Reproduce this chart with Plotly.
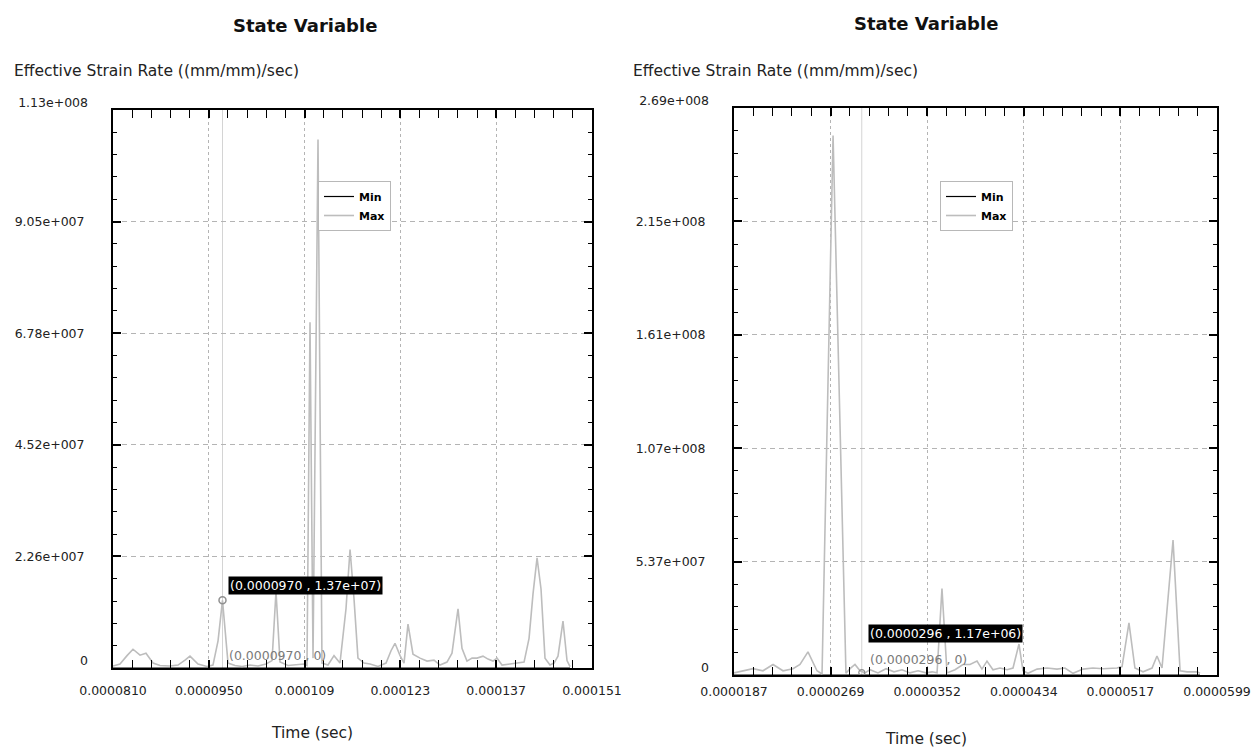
import plotly.graph_objects as go

# ---------------- data (time in microseconds, strain rate in 1e6 (mm/mm)/sec) ----------------
left_time_us = [81.0, 82.02, 83.05, 83.92, 84.95, 85.82, 86.85, 87.87, 89.33, 90.50,
                91.52, 92.25, 93.42, 94.74, 95.61, 96.35, 97.0, 97.81, 98.83, 99.85,
                101.02, 102.19, 103.36, 104.24, 104.82, 105.41, 106.58, 107.74, 108.91, 109.35,
                109.79, 110.23, 110.96, 111.54, 112.42, 113.30, 114.17, 115.05, 115.64, 116.22,
                116.80, 117.68, 118.56, 119.73, 120.90, 121.63, 122.21, 122.95, 123.53, 124.11,
                124.84, 125.87, 126.89, 127.91, 128.79, 129.81, 130.54, 131.42, 132.00, 132.73,
                133.47, 134.20, 135.07, 135.80, 136.53, 137.12, 137.85, 139.02, 140.19, 141.07,
                141.80, 142.38, 142.97, 143.55, 144.13, 144.86, 145.45, 146.03, 146.76, 147.35,
                147.79]
left_max_e6 = [0.4, 0.8, 2.5, 3.8, 2.6, 3.0, 1.0, 0.5, 0.4, 0.6,
               1.6, 2.4, 0.8, 0.3, 0.6, 5.5, 13.7, 1.0, 0.5, 0.3,
               0.6, 0.4, 0.8, 1.5, 15.5, 1.2, 0.5, 0.6, 0.8, 0.5,
               70.0, 2.0, 107.0, 1.0, 0.6, 2.5, 1.0, 12.0, 24.0, 14.0,
               2.0, 1.0, 0.8, 0.3, 1.0, 3.5, 5.0, 2.5, 1.0, 8.9,
               2.8, 2.0, 1.4, 1.6, 0.6, 1.2, 3.0, 12.0, 4.0, 1.4,
               2.0, 2.0, 2.4, 1.8, 1.4, 2.0, 0.6, 0.8, 1.0, 1.2,
               6.0, 15.0, 22.3, 16.0, 2.0, 0.6, 1.0, 2.4, 9.5, 1.5,
               0.3]
left_min_e6 = [0.0] * len(left_time_us)

right_time_us = [18.70, 19.47, 20.32, 21.17, 22.03, 22.88, 23.73, 24.33, 25.01, 25.78,
                 26.21, 27.15, 28.25, 28.60, 29.02, 29.45, 29.87, 30.30, 30.98, 31.67,
                 32.35, 33.03, 33.71, 34.40, 35.08, 35.59, 36.02, 36.44, 36.87, 37.55,
                 38.23, 38.83, 39.43, 39.85, 40.28, 40.79, 41.39, 41.99, 42.50, 43.01,
                 43.35, 43.78, 44.55, 45.40, 46.25, 46.93, 47.62, 48.47, 49.32, 50.18,
                 50.77, 51.37, 51.80, 52.39, 52.90, 53.59, 54.36, 54.78, 55.21, 56.15,
                 56.75, 57.35, 58.20, 58.45]
right_max_e6 = [1.0, 2.0, 3.0, 2.0, 5.0, 2.0, 3.0, 5.0, 11.0, 2.0,
                0.5, 256.0, 0.8, 3.0, 5.0, 2.0, 1.0, 2.5, 1.0, 3.0,
                1.5, 2.5, 1.0, 2.0, 1.0, 1.5, 1.0, 41.0, 1.0, 2.5,
                5.0, 5.0, 6.6, 2.8, 6.6, 2.5, 3.3, 2.5, 3.3, 14.7,
                2.0, 0.8, 2.8, 3.3, 2.8, 3.3, 0.8, 2.8, 3.3, 3.0,
                3.3, 3.3, 4.0, 24.7, 3.3, 1.5, 3.3, 9.0, 3.3, 64.0,
                2.0, 1.5, 1.5, 0.8]
right_min_e6 = [0.0] * len(right_time_us)

# axis ticks
left_xticks = [81e-6, 95e-6, 109e-6, 123e-6, 137e-6, 151e-6]
left_xlabels = ["0.0000810", "0.0000950", "0.000109", "0.000123", "0.000137", "0.000151"]
left_yticks = [0, 22.6e6, 45.2e6, 67.8e6, 90.4e6, 113e6]
left_ylabels = ["0", "2.26e+007", "4.52e+007", "6.78e+007", "9.05e+007", "1.13e+008"]

right_xticks = [18.70e-6, 26.94e-6, 35.18e-6, 43.42e-6, 51.66e-6, 59.90e-6]
right_xlabels = ["0.0000187", "0.0000269", "0.0000352", "0.0000434", "0.0000517", "0.0000599"]
right_yticks = [0, 53.8e6, 107.6e6, 161.4e6, 215.2e6, 269e6]
right_ylabels = ["0", "5.37e+007", "1.07e+008", "1.61e+008", "2.15e+008", "2.69e+008"]

# cursor readouts
left_cursor = (97.0e-6, 13.7e6)
right_cursor = (29.6e-6, 1.17e6)

W, H = 1253, 749
FONT = "DejaVu Sans"
MAXC = "#bdbdbd"

def px(v):
    return v / W

def py(v):
    return 1 - v / H

fig = go.Figure()

# left traces
fig.add_trace(go.Scatter(x=[t * 1e-6 for t in left_time_us], y=[v * 1e6 for v in left_min_e6],
                         mode="lines", name="Min", line=dict(color="black", width=1.2),
                         xaxis="x", yaxis="y", legend="legend"))
fig.add_trace(go.Scatter(x=[t * 1e-6 for t in left_time_us], y=[v * 1e6 for v in left_max_e6],
                         mode="lines", name="Max", line=dict(color=MAXC, width=1.6),
                         xaxis="x", yaxis="y", legend="legend"))
fig.add_trace(go.Scatter(x=[left_cursor[0]], y=[left_cursor[1]], mode="markers",
                         marker=dict(symbol="circle-open", size=7, color="#909090", line=dict(width=1.5)),
                         showlegend=False, xaxis="x", yaxis="y"))
# right traces
fig.add_trace(go.Scatter(x=[t * 1e-6 for t in right_time_us], y=[v * 1e6 for v in right_min_e6],
                         mode="lines", name="Min", line=dict(color="black", width=1.2),
                         xaxis="x2", yaxis="y2", legend="legend2"))
fig.add_trace(go.Scatter(x=[t * 1e-6 for t in right_time_us], y=[v * 1e6 for v in right_max_e6],
                         mode="lines", name="Max", line=dict(color=MAXC, width=1.6),
                         xaxis="x2", yaxis="y2", legend="legend2"))
fig.add_trace(go.Scatter(x=[right_cursor[0]], y=[right_cursor[1]], mode="markers",
                         marker=dict(symbol="circle-open", size=6, color="#909090", line=dict(width=1.2)),
                         showlegend=False, xaxis="x2", yaxis="y2"))
# empty traces so the end-label overlay axes are drawn
fig.add_trace(go.Scatter(x=[], y=[], xaxis="x", yaxis="y3", showlegend=False, hoverinfo="skip"))
fig.add_trace(go.Scatter(x=[], y=[], xaxis="x2", yaxis="y4", showlegend=False, hoverinfo="skip"))

tickfont = dict(family=FONT, size=12.5, color="#222222")

def xaxis_cfg(domain, rng, tv, tt, minor_dt, anchor, standoff):
    return dict(domain=domain, range=rng, anchor=anchor, automargin=False,
                tickmode="array", tickvals=tv, ticktext=tt, tickfont=tickfont,
                ticks="inside", ticklen=8, tickwidth=2, tickcolor="black",
                minor=dict(ticks="inside", ticklen=4, tickwidth=1, tickcolor="black",
                           tick0=rng[0], dtick=minor_dt, showgrid=False),
                showline=True, linecolor="black", linewidth=2, mirror="allticks",
                showgrid=True, gridcolor="#b4b4b4", griddash="3px,3px", gridwidth=1,
                zeroline=False, ticklabelstandoff=standoff)

def yaxis_cfg(domain, rng, tv, tt, minor_dt, anchor, standoff):
    # end labels (first and last) are drawn by an overlay axis, slightly raised
    mid_text = [""] + list(tt[1:-1]) + [""]
    return dict(domain=domain, range=rng, anchor=anchor, automargin=False,
                tickmode="array", tickvals=tv, ticktext=mid_text, tickfont=tickfont,
                ticks="inside", ticklen=8, tickwidth=2, tickcolor="black",
                minor=dict(ticks="inside", ticklen=4, tickwidth=1, tickcolor="black",
                           tick0=0, dtick=minor_dt, showgrid=False),
                showline=True, linecolor="black", linewidth=2, mirror="allticks",
                showgrid=True, gridcolor="#b4b4b4", griddash="5px,4px", gridwidth=1,
                zeroline=False, ticklabelstandoff=standoff)

def yend_cfg(over, rng, tv, tt, anchor, standoff, shift):
    return dict(overlaying=over, anchor=anchor, side="left", range=rng, automargin=False,
                tickmode="array", tickvals=[tv[0], tv[-1]], ticktext=[tt[0], tt[-1]], tickfont=tickfont,
                ticks="", showline=False, showgrid=False, zeroline=False,
                ticklabelstandoff=standoff, ticklabelshift=shift)

fig.update_layout(
    width=W, height=H, margin=dict(l=0, r=0, t=0, b=0, autoexpand=False),
    paper_bgcolor="white", plot_bgcolor="white",
    xaxis=xaxis_cfg([px(113), px(592)], [81e-6, 151e-6], left_xticks, left_xlabels, 2.8e-6, "y", 10),
    yaxis=yaxis_cfg([py(668), py(110)], [0, 113e6], left_yticks, left_ylabels, 4.52e6, "x", 24),
    yaxis3=yend_cfg("y", [0, 113e6], left_yticks, left_ylabels, "x", 24, -7),
    xaxis2=xaxis_cfg([px(734), px(1217)], [18.7e-6, 59.9e-6], right_xticks, right_xlabels, 1.648e-6, "y2", 4),
    yaxis2=yaxis_cfg([py(675), py(108)], [0, 269e6], right_yticks, right_ylabels, 10.76e6, "x2", 24),
    yaxis4=yend_cfg("y2", [0, 269e6], right_yticks, right_ylabels, "x2", 24, -7),
    legend=dict(x=px(318), y=py(181), xanchor="left", yanchor="top",
                bgcolor="white", bordercolor="#b8b8b8", borderwidth=1,
                font=dict(family=FONT, size=11, color="black", weight="bold"),
                itemwidth=30, tracegroupgap=0),
    legend2=dict(x=px(940), y=py(181), xanchor="left", yanchor="top",
                 bgcolor="white", bordercolor="#b8b8b8", borderwidth=1,
                 font=dict(family=FONT, size=11, color="black", weight="bold"),
                 itemwidth=30, tracegroupgap=0),
    showlegend=True,
)

# cursor lines
fig.add_shape(type="line", xref="x", yref="y domain", x0=left_cursor[0], x1=left_cursor[0], y0=0, y1=1,
              line=dict(color="#d4d4d4", width=1), layer="below")
fig.add_shape(type="line", xref="x2", yref="y2 domain", x0=right_cursor[0], x1=right_cursor[0], y0=0, y1=1,
              line=dict(color="#d4d4d4", width=1), layer="below")

def paper_text(text, x, y, size, xanchor="center", bold=False, color="#222222"):
    return dict(text=f"<b>{text}</b>" if bold else text, x=px(x), y=py(y), xref="paper", yref="paper",
                xanchor=xanchor, yanchor="middle", showarrow=False,
                font=dict(family=FONT, size=size, color=color))

ann = []
ann.append(paper_text("State Variable", 305, 26, 18, bold=True, color="#111111"))
ann.append(paper_text("State Variable", 926, 23, 18, bold=True, color="#111111"))
ann.append(paper_text("Effective Strain Rate ((mm/mm)/sec)", 12, 71, 15.5, xanchor="left"))
ann.append(paper_text("Effective Strain Rate ((mm/mm)/sec)", 631, 71, 15.5, xanchor="left"))
ann.append(paper_text("Time (sec)", 312, 733, 15.5))
ann.append(paper_text("Time (sec)", 926, 739, 15.5))
# cursor readouts
ann.append(dict(text="(0.0000970 , 1.37e+07)", x=left_cursor[0], y=left_cursor[1], xref="x", yref="y",
                xanchor="left", yanchor="bottom", xshift=6, yshift=5, showarrow=False,
                bgcolor="black", borderpad=1, font=dict(family=FONT, size=12.5, color="white")))
ann.append(dict(text="(0.0000970 , 0)", x=left_cursor[0], y=0, xref="x", yref="y",
                xanchor="left", yanchor="bottom", xshift=5, yshift=3, showarrow=False,
                font=dict(family=FONT, size=12.5, color="#7a7a7a")))
ann.append(dict(text="(0.0000296 , 1.17e+06)", x=right_cursor[0], y=right_cursor[1], xref="x2", yref="y2",
                xanchor="left", yanchor="bottom", xshift=6, yshift=30, showarrow=False,
                bgcolor="black", borderpad=1, font=dict(family=FONT, size=12.5, color="white")))
ann.append(dict(text="(0.0000296 , 0)", x=right_cursor[0], y=0, xref="x2", yref="y2",
                xanchor="left", yanchor="bottom", xshift=6, yshift=6, showarrow=False,
                font=dict(family=FONT, size=12.5, color="#7a7a7a")))
fig.update_layout(annotations=ann)

fig.write_html("out.html")
